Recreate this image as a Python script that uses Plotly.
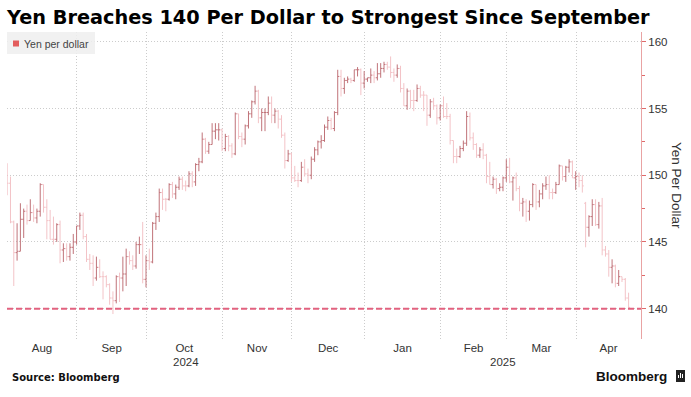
import pandas as pd
import plotly.graph_objects as go

# ---------------- data (USD/JPY daily bars, Aug 1 2024 - Apr 22 2025) ----------------
START, END = "2024-08-01", "2025-04-22"

open_ = [
    # Aug
    150.0,149.4,146.5,144.2,144.3,146.7,147.3,146.6,147.2,146.8,147.3,149.3,147.6,146.6,145.2,145.2,146.3,144.4,144.5,143.9,144.6,145.0,
    # Sep
    146.2,147.0,145.4,143.7,143.4,142.3,143.1,142.4,142.4,141.8,140.8,140.6,142.4,142.3,142.6,143.9,143.6,143.2,144.8,144.8,142.2,
    # Oct
    143.6,143.5,146.4,146.9,148.7,148.2,148.2,149.3,148.6,149.1,149.7,149.2,149.2,150.1,149.5,150.8,151.0,152.7,151.8,152.3,153.3,153.4,153.4,
    # Nov
    152.0,152.9,152.2,151.6,154.6,152.9,152.7,153.7,154.6,155.5,156.3,154.3,154.7,154.7,155.4,154.5,154.8,154.2,153.0,151.1,151.6,
    # Dec
    149.8,149.6,149.6,150.6,150.1,150.0,151.2,151.9,152.5,152.6,153.6,154.1,153.5,154.7,157.4,156.5,157.1,157.2,157.1,157.9,157.9,156.9,
    # Jan
    157.2,157.3,157.5,157.3,157.6,158.0,158.3,158.1,157.7,157.5,158.0,156.5,155.2,156.3,155.6,155.6,156.5,156.0,156.0,154.5,155.5,155.2,154.3,
    # Feb
    155.2,154.4,154.4,152.6,151.4,151.4,152.0,152.4,154.4,152.8,152.3,151.5,151.9,151.5,149.9,149.3,149.7,149.0,149.1,149.8,
    # Mar
    150.6,149.5,149.8,149.0,147.9,148.0,147.3,147.8,149.3,148.0,148.6,149.2,149.3,148.7,148.7,149.3,150.7,149.9,150.6,151.0,149.8,
    # Apr
    149.9,149.6,147.9,146.1,146.9,147.8,146.3,147.7,144.4,144.1,143.1,143.2,141.9,142.4,142.2,140.8,
]
high = [
    150.9,149.9,146.6,146.4,147.9,147.5,147.8,148.2,147.8,147.5,149.4,149.3,148.2,147.4,146.9,146.4,146.6,144.9,144.9,144.9,145.6,146.2,
    147.2,147.2,145.6,144.1,144.0,143.9,143.7,142.8,142.5,141.9,141.3,142.5,142.7,143.9,144.5,144.3,144.0,145.0,145.4,146.5,144.0,
    144.5,146.5,147.2,149.0,149.0,148.3,149.4,149.5,149.3,149.9,149.9,149.6,150.3,150.3,150.9,151.3,153.2,152.8,152.5,153.9,153.9,153.9,153.5,
    153.1,153.0,152.4,154.7,154.6,153.2,153.8,154.8,155.6,156.7,156.4,155.0,155.0,155.9,155.9,155.0,154.9,154.5,153.2,151.9,151.7,
    150.7,150.2,151.0,151.2,150.5,151.4,152.1,152.6,153.0,153.8,154.4,154.3,154.8,157.9,157.9,157.3,157.4,157.3,157.9,158.1,158.0,157.8,
    157.3,158.0,157.8,158.4,158.4,158.5,158.5,158.9,158.0,158.3,158.2,156.9,156.5,156.4,156.4,156.8,156.7,156.3,156.0,155.7,155.8,155.3,155.3,
    155.9,155.4,154.6,152.6,152.0,152.2,152.6,154.8,154.7,153.2,152.4,152.1,152.4,151.6,151.0,149.9,149.8,149.4,149.9,151.2,
    151.3,149.9,150.2,149.2,148.3,148.2,148.1,149.4,149.3,148.9,149.4,149.9,150.0,149.0,149.5,150.8,150.7,150.7,151.2,151.1,150.3,
    150.2,150.0,148.0,147.0,148.2,148.2,148.0,148.3,144.7,144.4,143.7,143.3,142.9,142.4,142.3,141.2,
]
low = [
    148.5,146.4,141.7,143.6,144.3,145.3,146.3,146.6,146.5,146.4,146.9,147.2,145.2,145.2,144.8,145.0,143.4,143.5,143.6,143.6,144.1,144.8,
    145.9,145.2,143.5,142.9,141.7,142.1,142.3,140.7,141.6,140.3,139.6,140.4,140.5,141.3,141.7,143.3,142.9,143.0,144.1,141.9,141.6,
    142.9,143.4,145.9,146.5,147.4,147.3,148.1,148.3,148.2,148.9,148.9,148.8,149.1,149.1,149.2,150.3,150.9,151.6,151.6,152.3,152.7,152.6,151.8,
    151.8,151.8,151.3,151.5,152.7,152.1,152.3,153.5,154.3,155.3,153.9,153.3,153.3,154.5,153.9,153.9,153.5,152.8,150.5,151.0,149.5,
    149.5,149.1,149.5,149.9,149.4,149.7,151.0,151.5,152.0,152.5,153.4,153.4,153.3,154.5,155.9,156.1,156.9,156.9,157.0,157.4,156.0,156.5,
    157.0,156.9,156.9,157.1,157.3,157.7,157.9,157.3,157.0,157.3,156.2,155.2,154.9,155.0,154.8,155.5,155.8,154.8,153.7,154.3,154.9,153.8,154.1,
    154.3,154.2,152.3,150.9,150.9,151.3,151.8,152.2,152.6,151.9,151.3,151.3,151.2,149.4,149.3,149.0,148.6,148.8,148.8,149.5,
    149.4,148.1,148.8,147.3,146.9,146.5,146.6,147.6,147.4,147.6,148.2,148.9,148.2,148.2,148.6,149.3,149.6,149.5,150.2,149.8,148.9,
    149.1,148.7,144.6,145.4,146.2,146.2,146.0,144.0,143.9,142.4,141.9,141.6,141.7,142.0,140.6,140.0,
]
close = [
    149.4,146.5,144.2,144.3,146.7,147.3,146.6,147.2,146.8,147.3,149.3,147.6,146.6,145.2,145.2,146.3,144.4,144.5,143.9,144.6,145.0,146.2,
    147.0,145.4,143.7,143.4,142.3,143.1,142.4,142.4,141.8,140.8,140.6,142.4,142.3,142.6,143.9,143.6,143.2,144.8,144.8,142.2,143.6,
    143.5,146.4,146.9,148.7,148.2,148.2,149.3,148.6,149.1,149.7,149.2,149.2,150.1,149.5,150.8,151.0,152.7,151.8,152.3,153.3,153.4,153.4,152.0,
    152.9,152.2,151.6,154.6,152.9,152.7,153.7,154.6,155.5,156.3,154.3,154.7,154.7,155.4,154.5,154.8,154.2,153.0,151.1,151.6,149.8,
    149.6,149.6,150.6,150.1,150.0,151.2,151.9,152.5,152.6,153.6,154.1,153.5,154.7,157.4,156.5,157.1,157.2,157.1,157.9,157.9,156.9,157.2,
    157.3,157.5,157.3,157.6,158.0,158.3,158.1,157.7,157.5,158.0,156.5,155.2,156.3,155.6,155.6,156.5,156.0,156.0,154.5,155.5,155.2,154.3,155.2,
    154.4,154.4,152.6,151.4,151.4,152.0,152.4,154.4,152.8,152.3,151.5,151.9,151.5,149.9,149.3,149.7,149.0,149.1,149.8,150.6,
    149.5,149.8,149.0,147.9,148.0,147.3,147.8,149.3,148.0,148.6,149.2,149.3,148.7,148.7,149.3,150.7,149.9,150.6,151.0,149.8,149.9,
    149.6,149.2,146.1,146.9,147.8,146.3,147.7,144.4,144.1,143.1,143.2,141.9,142.4,142.2,140.8,140.1,
]

MONTH_LABELS = ["Aug", "Sep", "Oct", "Nov", "Dec", "Jan", "Feb", "Mar", "Apr"]
YEAR_LABELS = ["2024", "2025"]
Y_TICKS = [140, 145, 150, 155, 160]
Y_MINOR = [142.5, 147.5, 152.5, 157.5]
THRESHOLD = 140

TITLE = "Yen Breaches 140 Per Dollar to Strongest Since September"
SERIES = "Yen per dollar"
Y_TITLE = "Yen Per Dollar"
SOURCE = "Source: Bloomberg"

# ---------------- trading-day axis ----------------
dates = pd.bdate_range(START, END)[: len(close)]
idx = list(range(len(close)))
months = dates.to_period("M")
change = [i for i in range(len(months) - 1) if months[i] != months[i + 1]]
bounds = [i + 0.1 for i in change]
X0, X1 = -0.05, 191.75
edges = [X0] + bounds + [X1]
month_centers = [(edges[k] + edges[k + 1]) / 2 for k in range(len(edges) - 1)]
year_split = bounds[[months[i].month for i in change].index(12)]
year_centers = [(X0 + year_split) / 2, (year_split + X1) / 2]

# ---------------- layout geometry ----------------
W, H = 691, 397
L, R, T, B = 7, 50, 32, 58
PW, PH = W - L - R, H - T - B


def px(x):
    return (x - L) / PW


def py(y):
    return (H - B - y) / PH


DARK = "#c07379"
LIGHT = "#f3c3c7"
FONT = "Liberation Sans"
GRID = "#cccccc"

fig = go.Figure()
fig.add_trace(go.Ohlc(
    x=idx, open=open_, high=high, low=low, close=close,
    increasing=dict(line=dict(color=DARK, width=1)),
    decreasing=dict(line=dict(color=LIGHT, width=1)),
    tickwidth=0.45, name=SERIES, showlegend=False, hoverinfo="skip",
))

shapes = [
    dict(type="line", xref="paper", yref="y", x0=0, x1=1, y0=THRESHOLD, y1=THRESHOLD,
         line=dict(color="#e2627f", width=2, dash="6px,3px"), layer="above"),
    dict(type="rect", xref="paper", yref="paper", x0=px(7), x1=px(95), y0=py(54), y1=py(32),
         fillcolor="rgba(238,238,238,0.85)", line=dict(width=0), layer="above"),
    dict(type="rect", xref="paper", yref="paper", x0=px(13), x1=px(19), y0=py(46.5), y1=py(40.5),
         fillcolor="#e35d5d", line=dict(width=0), layer="above"),
    # Bloomberg icon
    dict(type="rect", xref="paper", yref="paper", x0=px(676), x1=px(685), y0=py(382), y1=py(370),
         fillcolor="#222222", line=dict(width=0), layer="above"),
]
for bx, bh in [(678.5, 3), (680.5, 5), (682.5, 4)]:
    shapes.append(dict(type="line", xref="paper", yref="paper", x0=px(bx), x1=px(bx),
                       y0=py(378), y1=py(378 - bh), line=dict(color="white", width=1), layer="above"))

annotations = [
    dict(text=SERIES, xref="paper", yref="paper", x=px(22), y=py(43.5), xanchor="left", yanchor="middle",
         showarrow=False, font=dict(family=FONT, size=10.5, color="#444")),
    dict(text=Y_TITLE, xref="paper", yref="paper", x=px(677), y=py(185), textangle=90,
         xanchor="center", yanchor="middle", showarrow=False, font=dict(family=FONT, size=13.5, color="#333")),
    dict(text="<b>" + SOURCE + "</b>", xref="paper", yref="paper", x=px(10), y=py(377),
         xanchor="left", yanchor="middle", showarrow=False, font=dict(family="DejaVu Sans", size=10, color="#111")),
    dict(text="<b>Bloomberg</b>", xref="paper", yref="paper", x=px(669), y=py(376),
         xanchor="right", yanchor="middle", showarrow=False, font=dict(family=FONT, size=13.5, color="#111")),
]
for yc, lab in zip(year_centers, YEAR_LABELS):
    annotations.append(dict(text=lab, xref="x", yref="paper", x=yc, y=py(362), xanchor="center",
                            yanchor="middle", showarrow=False, font=dict(family=FONT, size=11.5, color="#333")))

fig.update_layout(
    width=W, height=H, autosize=False,
    margin=dict(l=L, r=R, t=T, b=B, pad=0),
    paper_bgcolor="white", plot_bgcolor="white",
    title=dict(text="<b>" + TITLE + "</b>", x=7 / W, xanchor="left", xref="container",
               y=1 - 17.5 / H, yanchor="middle", yref="container",
               font=dict(family="DejaVu Sans", size=19.3, color="#000")),
    showlegend=False,
    xaxis=dict(range=[X0, X1], tickmode="array", tickvals=month_centers, ticktext=MONTH_LABELS,
               ticks="", showgrid=False, zeroline=False, showline=False,
               tickfont=dict(family=FONT, size=11.5, color="#333"),
               minor=dict(tickmode="array", tickvals=bounds, showgrid=True, gridcolor=GRID,
                          griddash="1px,2px", gridwidth=1, ticks=""),
               rangeslider=dict(visible=False), fixedrange=True),
    yaxis=dict(side="right", range=[137.73, 160.73], tickmode="array", tickvals=Y_TICKS,
               ticks="outside", ticklen=4, tickwidth=1, tickcolor="#e06a6a",
               showline=True, linecolor="#e9a3a3", linewidth=1,
               showgrid=True, gridcolor=GRID, griddash="1px,2px", gridwidth=1, zeroline=False,
               tickfont=dict(family=FONT, size=11.5, color="#333"),
               minor=dict(tickmode="array", tickvals=Y_MINOR, ticks="outside", ticklen=3,
                          tickcolor="#e06a6a", showgrid=False),
               fixedrange=True),
    shapes=shapes, annotations=annotations,
)

fig.write_html("out.html", config={"displayModeBar": False},
               post_script="document.body.style.margin='0';document.body.style.padding='0';")
